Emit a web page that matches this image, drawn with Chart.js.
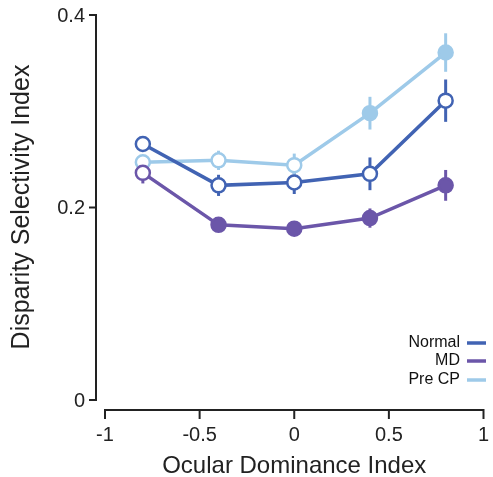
<!DOCTYPE html>
<html>
<head>
<meta charset="utf-8">
<script src="https://cdn.jsdelivr.net/npm/chart.js@4"></script>
<style>
  html, body { margin: 0; padding: 0; background: #fff; }
  canvas { display: block; }
</style>
</head>
<body>
<canvas id="odChart" width="493" height="477"></canvas>
<script>
// Data
const xValues = [-0.8, -0.4, 0, 0.4, 0.8];

const normalMean = [0.266, 0.223, 0.226, 0.235, 0.311];
const normalErr = [0.007, 0.011, 0.012, 0.017, 0.022];
const normalFilled = [false, false, false, false, false];

const mdMean = [0.236, 0.182, 0.178, 0.189, 0.223];
const mdErr = [0.011, 0.007, 0.007, 0.010, 0.016];
const mdFilled = [false, true, true, true, true];

const preCpMean = [0.247, 0.249, 0.244, 0.298, 0.361];
const preCpErr = [0.007, 0.010, 0.012, 0.017, 0.020];
const preCpFilled = [false, false, false, true, true];

const seriesNames = ['Normal', 'MD', 'Pre CP'];

const xTicks = [-1, -0.5, 0, 0.5, 1];
const xTickLabels = ['-1', '-0.5', '0', '0.5', '1'];
const yTicks = [0, 0.2, 0.4];
const yTickLabels = ['0', '0.2', '0.4'];

const xTitle = 'Ocular Dominance Index';
const yTitle = 'Disparity Selectivity Index';

const colorNormal = '#4163b3';
const colorMD = '#6b56a9';
const colorPreCP = '#9ecae9';
const axisColor = '#222';
const fontFamily = '"Liberation Sans", Arial, sans-serif';

function makeDataset(label, means, errs, filled, color) {
    return {
        label: label,
        data: xValues.map((x, i) => ({ x: x, y: means[i] })),
        errors: errs,
        borderColor: color,
        backgroundColor: color,
        borderWidth: 3.5,
        pointRadius: 7,
        pointHoverRadius: 7,
        pointBorderWidth: 2.5,
        pointBorderColor: color,
        pointBackgroundColor: filled.map(f => f ? color : '#fff'),
        tension: 0,
        fill: false,
        clip: false
    };
}

// Error bars go underneath the lines and markers
const errorBarPlugin = {
    id: 'errorBars',
    beforeDatasetsDraw(chart) {
        const ctx = chart.ctx;
        const xs = chart.scales.x, ys = chart.scales.y;
        ctx.save();
        chart.data.datasets.forEach(ds => {
            ctx.strokeStyle = ds.borderColor;
            ctx.lineWidth = 3;
            ds.data.forEach((p, i) => {
                const px = xs.getPixelForValue(p.x);
                ctx.beginPath();
                ctx.moveTo(px, ys.getPixelForValue(p.y - ds.errors[i]));
                ctx.lineTo(px, ys.getPixelForValue(p.y + ds.errors[i]));
                ctx.stroke();
            });
        });
        ctx.restore();
    }
};

// Detached axes (matlab-style offset spines) + legend
const axesPlugin = {
    id: 'offsetAxes',
    afterDraw(chart) {
        const ctx = chart.ctx;
        const xs = chart.scales.x, ys = chart.scales.y;
        const area = chart.chartArea;
        const yAxisX = area.left - 9;
        const xAxisY = area.bottom + 10;

        ctx.save();
        ctx.strokeStyle = axisColor;
        ctx.fillStyle = axisColor;
        ctx.lineWidth = 2;

        // y axis
        ctx.beginPath();
        ctx.moveTo(yAxisX, ys.getPixelForValue(yTicks[0]));
        ctx.lineTo(yAxisX, ys.getPixelForValue(yTicks[yTicks.length - 1]));
        ctx.stroke();
        ctx.font = '20px ' + fontFamily;
        ctx.textAlign = 'right';
        ctx.textBaseline = 'middle';
        yTicks.forEach((v, i) => {
            const py = ys.getPixelForValue(v);
            ctx.beginPath();
            ctx.moveTo(yAxisX - 7, py);
            ctx.lineTo(yAxisX + 1, py);
            ctx.stroke();
            ctx.fillText(yTickLabels[i], yAxisX - 11, py + 1);
        });

        // x axis
        ctx.beginPath();
        ctx.moveTo(xs.getPixelForValue(xTicks[0]), xAxisY);
        ctx.lineTo(xs.getPixelForValue(xTicks[xTicks.length - 1]), xAxisY);
        ctx.stroke();
        ctx.textAlign = 'center';
        ctx.textBaseline = 'top';
        xTicks.forEach((v, i) => {
            const px = xs.getPixelForValue(v);
            ctx.beginPath();
            ctx.moveTo(px, xAxisY - 1);
            ctx.lineTo(px, xAxisY + 9);
            ctx.stroke();
            ctx.fillText(xTickLabels[i], px, xAxisY + 15);
        });

        // titles
        ctx.font = '24px ' + fontFamily;
        ctx.textBaseline = 'middle';
        ctx.fillText(xTitle, (xs.getPixelForValue(-1) + xs.getPixelForValue(1)) / 2, 466);
        ctx.save();
        ctx.font = '25px ' + fontFamily;
        ctx.translate(22, 207);
        ctx.rotate(-Math.PI / 2);
        ctx.fillText(yTitle, 0, 0);
        ctx.restore();

        // legend, text on the left and line sample on the right
        ctx.font = '16px ' + fontFamily;
        ctx.textAlign = 'right';
        ctx.textBaseline = 'middle';
        const legendY = [343, 361, 380];
        chart.data.datasets.forEach((ds, i) => {
            ctx.fillStyle = '#111';
            ctx.fillText(seriesNames[i], 460, legendY[i]);
            ctx.strokeStyle = ds.borderColor;
            ctx.lineWidth = 3.5;
            ctx.beginPath();
            ctx.moveTo(467, legendY[i]);
            ctx.lineTo(486, legendY[i]);
            ctx.stroke();
        });
        ctx.restore();
    }
};

new Chart(document.getElementById('odChart'), {
    type: 'line',
    data: {
        datasets: [
            makeDataset(seriesNames[0], normalMean, normalErr, normalFilled, colorNormal),
            makeDataset(seriesNames[1], mdMean, mdErr, mdFilled, colorMD),
            makeDataset(seriesNames[2], preCpMean, preCpErr, preCpFilled, colorPreCP)
        ]
    },
    options: {
        responsive: false,
        animation: false,
        layout: { padding: { left: 105, right: 4, top: 15, bottom: 77 } },
        plugins: {
            legend: { display: false },
            tooltip: { enabled: false }
        },
        scales: {
            x: { type: 'linear', min: -1, max: 1, display: false },
            y: { type: 'linear', min: 0, max: 0.4, display: false }
        }
    },
    plugins: [errorBarPlugin, axesPlugin]
});
</script>
</body>
</html>
